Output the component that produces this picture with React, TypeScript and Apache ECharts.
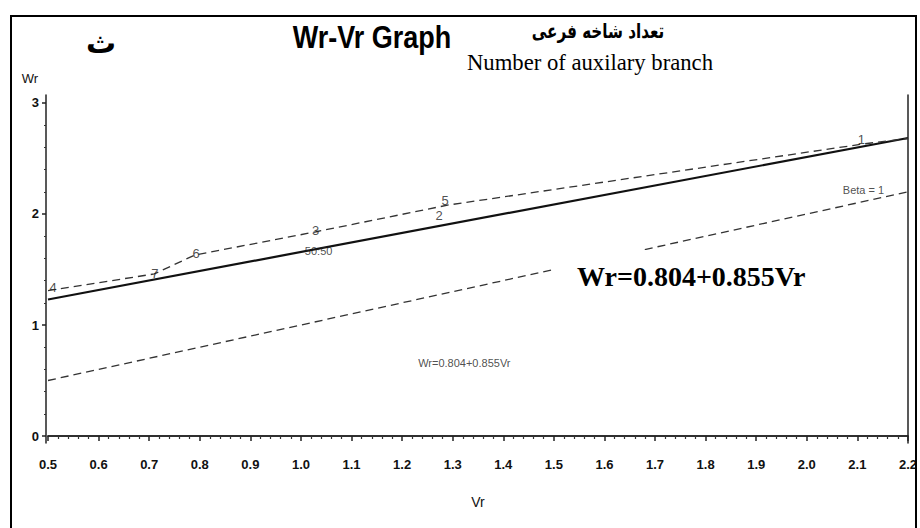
import React, { useEffect, useRef } from "react";
import * as echarts from "echarts";

// Regression line Wr = 0.804 + 0.855 Vr (end points)
const regVr = [0.5, 2.2];
const regWr = [1.23, 2.685];

// Upper dashed line through the array points
const upperVr = [0.5, 0.71, 0.79, 1.03, 1.29, 2.11, 2.2];
const upperWr = [1.31, 1.46, 1.63, 1.84, 2.08, 2.63, 2.68];

// Beta = 1 line
const betaVr = [0.5, 2.2];
const betaWr = [0.5, 2.2];

// Array point labels
const arrayNames = ["4", "7", "6", "3", "5", "2", "1"];
const arrayVr = [0.51, 0.711, 0.793, 1.029, 1.285, 1.273, 2.108];
const arrayWr = [1.34, 1.468, 1.64, 1.847, 2.126, 1.99, 2.667];

// Annotations inside the plot
const noteNames = ["50:50", "Beta = 1", "Wr=0.804+0.855Vr"];
const noteVr = [1.035, 2.112, 1.323];
const noteWr = [1.665, 2.216, 0.658];

// Axis ticks
const yMajor = [0, 1, 2, 3];
const yMinor = [0.2, 0.4, 0.6, 0.8, 1.2, 1.4, 1.6, 1.8, 2.2, 2.4, 2.6, 2.8];

const sans = "'Liberation Sans', Arial, sans-serif";

const zip = (a: number[], b: number[]) => a.map((v, i) => [v, b[i]]);

export default function App() {
  const ref = useRef<HTMLDivElement>(null);
  useEffect(() => {
    document.body.style.margin = "0";
    const chart = echarts.init(ref.current!, null, { renderer: "svg" });
    const yMin = -0.063;
    const yMax = 3.072;
    const pointLabel = {
      show: true,
      position: "inside",
      formatter: (p: any) => p.name,
      fontFamily: sans,
      color: "#222",
      textBorderWidth: 0,
      textBorderColor: "transparent",
    };
    chart.setOption({
      animation: false,
      backgroundColor: "#fff",
      grid: { left: 48, right: 7, top: 95, bottom: 85 },
      xAxis: [
        {
          type: "value",
          min: 0.5,
          max: 2.2,
          interval: 0.1,
          position: "bottom",
          axisLine: { show: true, lineStyle: { color: "#222", width: 1.5 } },
          axisTick: { show: true, length: 5, lineStyle: { color: "#222", width: 1.5 } },
          minorTick: { show: true, splitNumber: 5, length: 3, lineStyle: { color: "#333", width: 1.2 } },
          axisLabel: {
            formatter: (v: number) => v.toFixed(1),
            margin: 15,
            fontSize: 13,
            fontWeight: "bold",
            fontFamily: sans,
            color: "#111",
          },
          splitLine: { show: false },
          name: "Vr",
          nameLocation: "middle",
          nameGap: 52,
          nameTextStyle: { fontSize: 14, fontFamily: sans, color: "#111" },
        },
        {
          type: "value",
          min: 0.5,
          max: 2.2,
          position: "top",
          axisLine: { show: true, lineStyle: { color: "#222", width: 1.5 } },
          axisTick: { show: false },
          axisLabel: { show: false },
          splitLine: { show: false },
        },
      ],
      yAxis: [
        {
          type: "value",
          min: yMin,
          max: yMax,
          position: "left",
          offset: 2,
          axisLine: { show: true, lineStyle: { color: "#222", width: 1.5 } },
          axisTick: { show: true, length: 4, customValues: yMajor, lineStyle: { color: "#222", width: 1.5 } },
          axisLabel: {
            customValues: yMajor,
            formatter: (v: number) => String(v),
            margin: 7,
            fontSize: 13,
            fontWeight: "bold",
            fontFamily: sans,
            color: "#111",
          },
          splitLine: { show: false },
          name: "Wr",
          nameLocation: "end",
          nameGap: 10,
          nameTextStyle: {
            fontSize: 13,
            fontFamily: sans,
            color: "#111",
            align: "right",
            padding: [0, 8, 0, 0],
          },
        },
        {
          type: "value",
          min: yMin,
          max: yMax,
          position: "left",
          offset: 2,
          axisLine: { show: false },
          axisTick: { show: true, length: 2, customValues: yMinor, lineStyle: { color: "#333", width: 1.2 } },
          axisLabel: { show: false },
          splitLine: { show: false },
        },
        {
          type: "value",
          min: yMin,
          max: yMax,
          position: "right",
          axisLine: { show: true, lineStyle: { color: "#222", width: 1.5 } },
          axisTick: { show: false },
          axisLabel: { show: false },
          splitLine: { show: false },
        },
      ],
      series: [
        {
          type: "line",
          name: "regression",
          data: zip(regVr, regWr),
          symbol: "none",
          lineStyle: { color: "#111", width: 2.2, type: "solid" },
          z: 3,
        },
        {
          type: "line",
          name: "upper",
          data: zip(upperVr, upperWr),
          symbol: "none",
          lineStyle: { color: "#333", width: 1.3, type: [8, 5] },
        },
        {
          type: "line",
          name: "beta",
          data: zip(betaVr, betaWr),
          symbol: "none",
          lineStyle: { color: "#333", width: 1.3, type: [8, 5] },
        },
        {
          type: "scatter",
          name: "arrays",
          data: arrayNames.map((n, i) => ({ name: n, value: [arrayVr[i], arrayWr[i]] })),
          symbolSize: 1,
          itemStyle: { color: "rgba(0,0,0,0)" },
          label: { ...pointLabel, fontSize: 13 },
          z: 5,
        },
        {
          type: "scatter",
          name: "notes",
          data: noteNames.map((n, i) => ({ name: n, value: [noteVr[i], noteWr[i]] })),
          symbolSize: 1,
          itemStyle: { color: "rgba(0,0,0,0)" },
          label: { ...pointLabel, fontSize: 11 },
          z: 5,
        },
      ],
      graphic: [
        {
          type: "rect",
          z: 50,
          shape: { x: 11, y: 16, width: 905, height: 530 },
          style: { fill: "none", stroke: "#000", lineWidth: 2 },
        },
        {
          type: "text",
          z: 100,
          x: 101,
          y: 42,
          style: {
            text: "ث",
            font: "bold 30px 'DejaVu Sans', sans-serif",
            fill: "#000",
            align: "center",
            verticalAlign: "middle",
          },
        },
        {
          type: "text",
          z: 100,
          x: 372,
          y: 37,
          scaleX: 0.87,
          style: {
            text: "Wr-Vr Graph",
            font: "bold 31px 'Liberation Sans', sans-serif",
            fill: "#000",
            align: "center",
            verticalAlign: "middle",
          },
        },
        {
          type: "text",
          z: 100,
          x: 598,
          y: 31,
          scaleX: 0.76,
          style: {
            text: "تعداد شاخه فرعی",
            font: "bold 20px 'DejaVu Sans', sans-serif",
            fill: "#000",
            align: "center",
            verticalAlign: "middle",
          },
        },
        {
          type: "text",
          z: 100,
          x: 590,
          y: 62,
          scaleX: 0.945,
          style: {
            text: "Number of auxilary branch",
            font: "24px 'Liberation Serif', serif",
            fill: "#000",
            align: "center",
            verticalAlign: "middle",
          },
        },
        {
          type: "text",
          z: 100,
          x: 553,
          y: 276,
          style: {
            text: "Wr=0.804+0.855Vr",
            font: "bold 28px 'Liberation Serif', serif",
            fill: "#000",
            align: "left",
            verticalAlign: "middle",
            backgroundColor: "#fff",
            padding: [14, 24, 10, 24],
          },
        },
      ],
    });
    return () => chart.dispose();
  }, []);
  return <div ref={ref} style={{ position: "fixed", left: 0, top: 0, width: 920, height: 528 }} />;
}
